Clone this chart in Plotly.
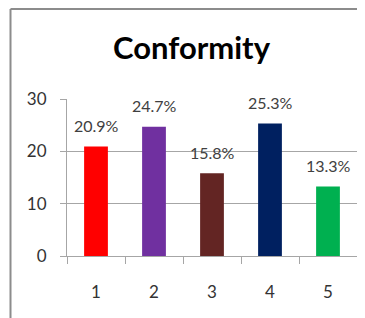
import plotly.graph_objects as go

categories = ["1", "2", "3", "4", "5"]
values = [20.9, 24.7, 15.8, 25.3, 13.3]
labels = ["20.9%", "24.7%", "15.8%", "25.3%", "13.3%"]
colors = ["#FF0000", "#7030A0", "#632523", "#002060", "#00B050"]
y_ticks = [0, 10, 20, 30]

# page has an 8px body margin, so the figure is offset by 8px
OFF = 8
W, H = 365 - OFF, 318 - OFF
L, R, T = 67 - OFF, 8, 99 - OFF
B = H - (256 - OFF)
pw, ph = W - L - R, H - T - B

def px(x):
    return (x - OFF - L) / pw

def py(y):
    return (H - B - (y - OFF)) / ph

fig = go.Figure(go.Bar(x=categories, y=values, marker_color=colors,
                       marker_line_width=0, width=0.41))

for i, (v, t) in enumerate(zip(values, labels)):
    fig.add_annotation(x=i, y=v, text=t, showarrow=False, yanchor="middle",
                       yshift=21, font=dict(family="Lato", size=16, color="#404040"))

# outer chart border (top and left)
fig.add_shape(type="line", xref="paper", yref="paper", x0=px(10.5), x1=px(366),
              y0=py(9), y1=py(9), line=dict(color="#8c8c8c", width=2))
fig.add_shape(type="line", xref="paper", yref="paper", x0=px(10.5), x1=px(10.5),
              y0=py(9), y1=py(320), line=dict(color="#8c8c8c", width=2))

fig.update_layout(
    width=W, height=H,
    margin=dict(l=L, r=R, t=T, b=B, autoexpand=False),
    paper_bgcolor="white", plot_bgcolor="white",
    showlegend=False,
    title=dict(text="<b>Conformity</b>", x=(191.5 - OFF) / W, xanchor="center",
               y=1 - 40 / H, yanchor="middle",
               font=dict(family="Lato", size=31, color="#000000")),
    xaxis=dict(type="category", range=[-0.5, 4.5], tickson="boundaries",
               ticks="outside", ticklen=7,
               tickcolor="#a6a6a6", showline=True, linecolor="#a6a6a6",
               showgrid=False, ticklabelstandoff=21,
               tickfont=dict(family="Lato", size=17, color="#333333")),
    yaxis=dict(range=[0, 30], tickvals=y_ticks, ticks="outside", ticklen=6,
               tickcolor="#a6a6a6", showline=True, linecolor="#a6a6a6",
               showgrid=True, gridcolor="#a6a6a6", gridwidth=1, zeroline=False,
               ticklabelstandoff=10,
               tickfont=dict(family="Lato", size=17, color="#333333")),
)

fig.write_html("out.html")
